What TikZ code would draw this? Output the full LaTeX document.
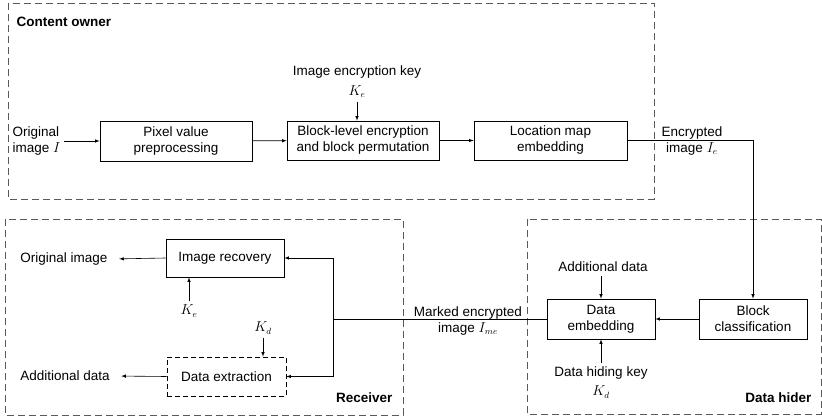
\documentclass[tikz,border=0pt]{standalone}
\usepackage{fontspec}
\setmainfont{Liberation Sans}
\usetikzlibrary{arrows,positioning}

\begin{document}
\begin{tikzpicture}[x=1pt,y=-1pt,->,>=latex,semithick,
                    font=\fontsize{13.5}{16}\selectfont,
                    box/.style={draw,-,align=center,inner sep=1pt,
                                minimum width=152pt,minimum height=40pt},
                    sbox/.style={box,minimum width=108pt},
                    frame/.style={draw=black!65,-,dash pattern=on 7pt off 4pt},
                    title/.style={font=\fontsize{13.5}{16}\selectfont\bfseries}]

  \useasboundingbox (0,0) rectangle (822,417);

  % content owner
  \draw[frame] (8,3) rectangle (654,199);
  \node[title,anchor=west] (own) at (13,22) {Content owner};

  \node[align=left,anchor=west] (orig) at (9,141) {Original\\image $I$};
  \node[box]                    (pix)  at (176,141)   {Pixel value\\preprocessing};
  \node[box,minimum height=39pt] (blk) at (363,140.5) {Block-level encryption\\and block permutation};
  \node[box,minimum width=153pt,minimum height=39pt] (loc) at (550.5,140.5) {Location map\\embedding};
  \node (keyt) at (357,72) {Image encryption key};
  \node (ke)   at (357,92) {$K_e$};
  \node[align=center] (enc) at (692,141) {Encrypted\\image $I_e$};

  \path (orig.east) edge (pix.west);
  \path (pix) edge (blk);
  \path (blk) edge (loc);
  \draw (ke.south) -- (ke.south |- blk.north);

  % data hider
  \draw[frame] (527,219) rectangle (821,414);
  \node[title,anchor=east] (hid) at (815,398) {Data hider};

  \node[sbox] (cls) at (753,319) {Block\\classification};
  \node[sbox] (emb) at (601,319) {Data\\embedding};
  \node (addt)  at (603,267) {Additional data};
  \node (hidet) at (601,373) {Data hiding key};
  \node (kd)    at (601,392) {$K_d$};
  \node[align=center] (mark) at (468,321) {Marked encrypted\\image $I_{me}$};

  \draw (loc.east) -| (cls.north);
  \path (cls) edge (emb);
  \draw (addt.south -| emb.north) -- (emb.north);
  \draw (hidet.north) -- (emb.south);

  % receiver
  \draw[frame] (5,219) rectangle (403,415);
  \node[title,anchor=east] (rcv) at (396,398) {Receiver};

  \node[box,minimum width=118pt,minimum height=38pt] (rec) at (225,258) {Image recovery};
  \node[box,dash pattern=on 5pt off 3pt,minimum width=119pt,minimum height=39pt] (ext) at (226.5,376.5) {Data extraction};
  \node (origo) at (64,259) {Original image};
  \node (addo)  at (65,376) {Additional data};
  \node (ke2)   at (189,311) {$K_e$};
  \node (kd2)   at (263,328) {$K_d$};
  \coordinate (jn) at (333,319);

  \draw[-] (emb.west) -- (jn);
  \draw[-] (jn |- rec.east) -- (jn |- ext.east);
  \draw (jn |- rec.east) -- (rec.east);
  \draw (jn |- ext.east) -- (ext.east);
  \draw[shorten >=8pt] (rec.west) -- (origo.east);
  \draw[shorten >=8pt] (ext.west) -- (addo.east);
  \draw (ke2.north) -- (ke2.north |- rec.south);
  \draw (kd2.south) -- (kd2.south |- ext.north);
\end{tikzpicture}
\end{document}
